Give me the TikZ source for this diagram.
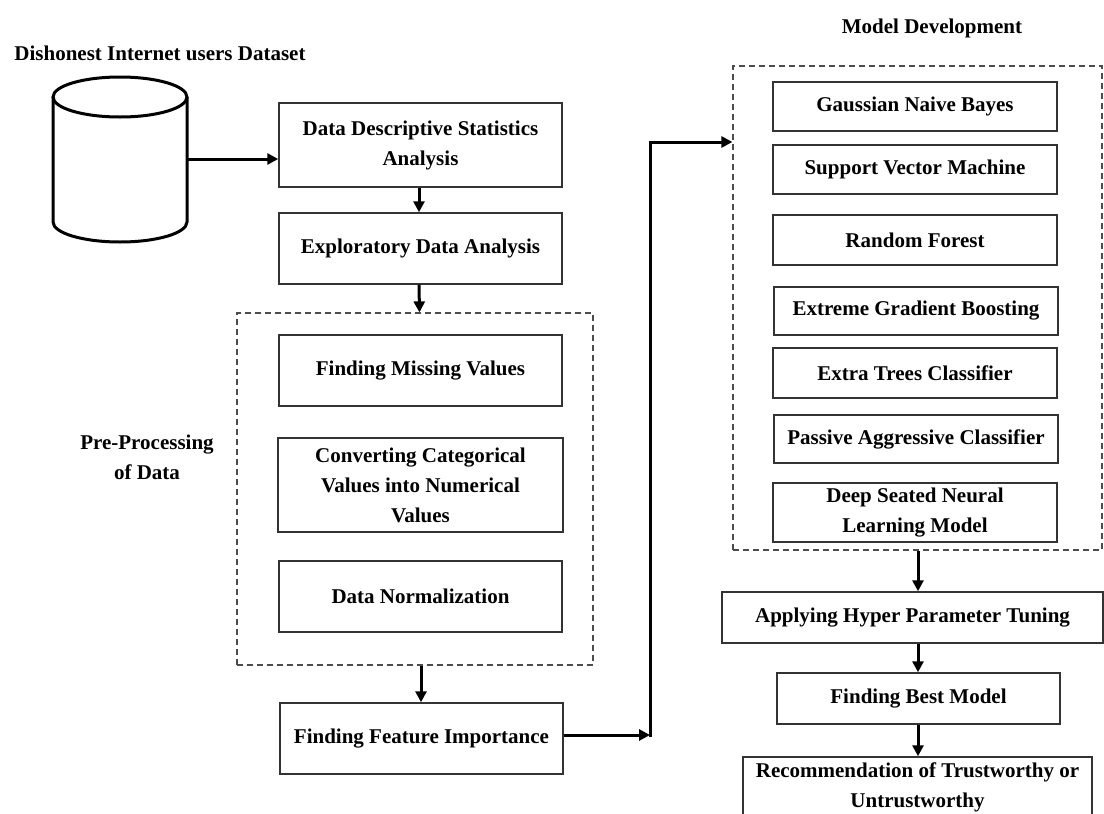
\documentclass[tikz,border=0pt]{standalone}
\usepackage{fontspec}
\setmainfont{Liberation Serif}
\usetikzlibrary{arrows.meta}
\tikzset{
  txt/.style={font=\bfseries\fontsize{21}{30}\selectfont, align=center, inner sep=0pt},
  box/.style={txt, draw=black!80, line width=1.5pt, rectangle, minimum width=283pt},
  group/.style={draw=black!70, line width=1.2pt, dash pattern=on 6pt off 4pt, rectangle, inner sep=0pt},
  arr/.style={line width=3pt, -{Triangle[length=11pt,width=11pt]}},
  link/.style={line width=3pt},
  cyl/.style={line width=3pt, draw=black}
}
\begin{document}
\begin{tikzpicture}[x=1pt, y=-1pt]
\useasboundingbox (0,0) rectangle (1104,814);
\clip (0,0) rectangle (1104,814);

% titles
\node[txt] (t1) at (160,53) {Dishonest Internet users Dataset};
\node[txt] (t2) at (932,28) {Model Development};
\node[txt] (t3) at (147,457) {Pre-Processing\\of Data};

% cylinder
\draw[cyl, fill=white] (120,97) ellipse [x radius=67pt, y radius=20pt];
\draw[cyl] (53,97) -- (53,222) arc[start angle=180, end angle=360, x radius=67pt, y radius=20pt] -- (187,97);
\coordinate (dbE) at (187,159);

% left column
\node[box, minimum height=84pt] (ddsa) at (420.5,145) {Data Descriptive Statistics\\Analysis};
\node[box, minimum height=71pt] (eda) at (420.5,248.5) {Exploratory Data Analysis};
\node[group, minimum width=356pt, minimum height=352pt] (pre) at (415,489) {};
\node[box, minimum height=71pt] (fmv) at (420.5,370.5) {Finding Missing Values};
\node[box, minimum width=285pt, minimum height=94pt] (conv) at (420.5,485) {Converting Categorical\\Values into Numerical\\Values};
\node[box, minimum height=71pt] (dn) at (420.5,596.5) {Data Normalization};
\node[box, minimum height=71pt] (ffi) at (421.5,738.5) {Finding Feature Importance};

% right column
\node[group, minimum width=369pt, minimum height=484pt] (model) at (917.5,308) {};
\node[box, minimum width=284pt, minimum height=49pt] (gnb) at (915,106.5) {Gaussian Naive Bayes};
\node[box, minimum width=284pt, minimum height=49pt] (svm) at (915,169.5) {Support Vector Machine};
\node[box, minimum width=284pt, minimum height=50pt] (rf) at (915,240) {Random Forest};
\node[box, minimum width=284pt, minimum height=48pt] (xgb) at (916,311) {Extreme Gradient Boosting};
\node[box, minimum width=284pt, minimum height=50pt] (etc) at (915,373) {Extra Trees Classifier};
\node[box, minimum width=284pt, minimum height=48pt] (pac) at (916,439) {Passive Aggressive Classifier};
\node[box, minimum width=284pt, minimum height=59pt] (dsnl) at (915,512.5) {Deep Seated Neural\\Learning Model};

\node[box, minimum width=381pt, minimum height=51pt] (ahpt) at (912.5,617.5) {Applying Hyper Parameter Tuning};
\node[box, minimum width=283pt, minimum height=51pt] (fbm) at (918.5,698.5) {Finding Best Model};
\node[box, minimum width=349pt, minimum height=76pt] (rec) at (917.5,795) {};
\node[txt, anchor=north] (rect) at (917.5,763) {Recommendation of Trustworthy or\\Untrustworthy};

% connectors
\draw[arr] (dbE) -- (dbE -| ddsa.west);
\draw[arr] ([xshift=-1.5pt]ddsa.south) -- ([xshift=-1.5pt]eda.north);
\draw[arr] ([xshift=-1.5pt]eda.south) -- ([xshift=4.5pt]pre.north);
\draw[arr] ([xshift=6pt]pre.south) -- ([xshift=-0.5pt]ffi.north);
\coordinate (j1) at (650,735);
\coordinate (j2) at (650,142);
\draw[arr] (ffi.east |- j1) -- (j1);
\draw[link] ([yshift=-1.5pt]j1) -- (j2);
\draw[arr] ([xshift=-1.5pt]j2) -- (j2 -| model.west);
\draw[arr] ([xshift=0.5pt]model.south) -- ([xshift=5.5pt]ahpt.north);
\draw[arr] ([xshift=5.5pt]ahpt.south) -- ([xshift=-0.5pt]fbm.north);
\draw[arr] ([xshift=-0.5pt]fbm.south) -- ([xshift=0.5pt]rec.north);
\end{tikzpicture}
\end{document}
